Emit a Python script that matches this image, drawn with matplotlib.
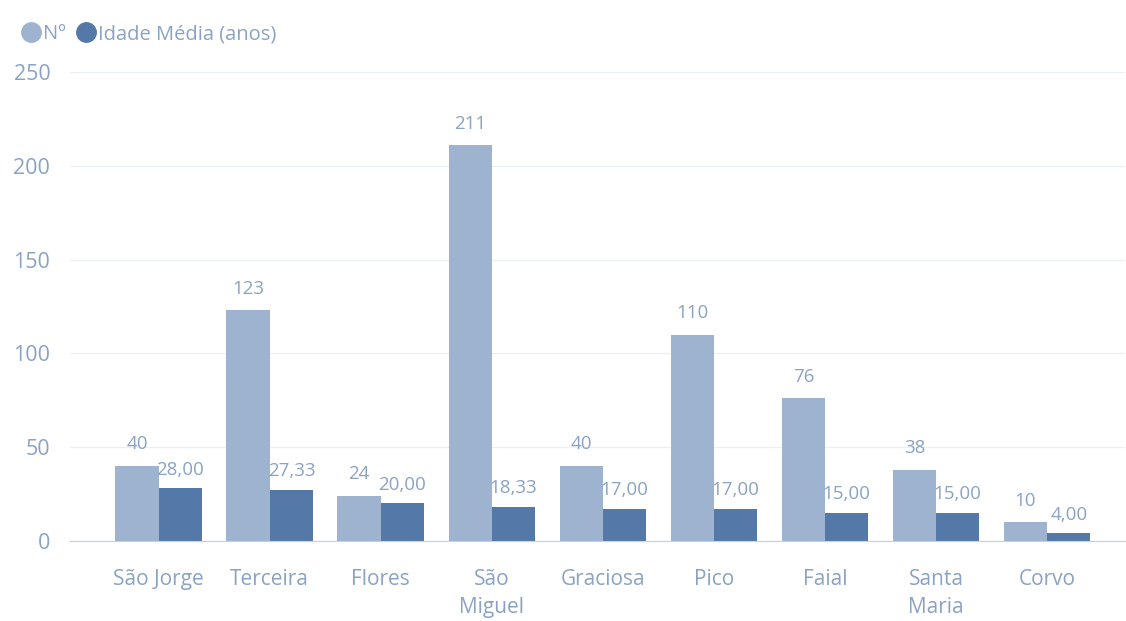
import matplotlib.pyplot as plt
import numpy as np
from matplotlib.lines import Line2D

ilhas = ["São Jorge", "Terceira", "Flores", "São\nMiguel", "Graciosa",
         "Pico", "Faial", "Santa\nMaria", "Corvo"]
numero = [40, 123, 24, 211, 40, 110, 76, 38, 10]
idade_media = [28.00, 27.33, 20.00, 18.33, 17.00, 17.00, 15.00, 15.00, 4.00]

light = "#9db3cf"
dark = "#5479a8"
txt = "#8aa3c4"

plt.rcParams["font.family"] = ["Open Sans", "DejaVu Sans"]

fig = plt.figure(figsize=(11.26, 6.21), dpi=100)
ax = fig.add_axes([0.062, 0.129, 0.937, 0.755])

x = np.arange(len(ilhas))
w = 0.39
b1 = ax.bar(x - w / 2, numero, w, color=light)
b2 = ax.bar(x + w / 2, idade_media, w, color=dark)

ax.bar_label(b1, labels=[str(v) for v in numero], padding=9,
             color=txt, fontsize=13.5)
ax.bar_label(b2, labels=[f"{v:.2f}".replace(".", ",") for v in idade_media],
             padding=7, color=txt, fontsize=13.5)

ax.set_xlim(-0.8, 8.7)
ax.set_ylim(0, 250)
ax.set_yticks([0, 50, 100, 150, 200, 250])
ax.set_xticks(x)
ax.set_xticklabels(ilhas, linespacing=1.45)
ax.tick_params(axis="both", length=0, labelcolor=txt, labelsize=15)
ax.tick_params(axis="y", pad=14, labelsize=15.5)
ax.tick_params(axis="x", pad=20)
ax.grid(axis="y", color="#eaf0f6", linewidth=1)
ax.set_axisbelow(True)
for s in ["top", "right", "left"]:
    ax.spines[s].set_visible(False)
ax.spines["bottom"].set_color("#c3d1e3")

handles = [Line2D([], [], marker="o", linestyle="", markersize=14, color=light),
           Line2D([], [], marker="o", linestyle="", markersize=14, color=dark)]
leg = fig.legend(handles, ["Nº", "Idade Média (anos)"], loc="upper left",
                 bbox_to_anchor=(0.002, 0.99), ncol=2, frameon=False,
                 handletextpad=0.0, columnspacing=0.5, handlelength=1.1,
                 fontsize=14.5)
for t in leg.get_texts():
    t.set_color(txt)

fig.savefig("out.png", dpi=100)
